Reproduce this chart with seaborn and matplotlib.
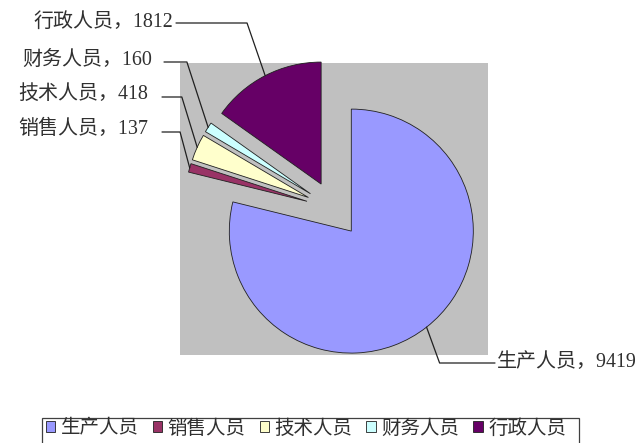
import numpy as np
import seaborn as sns
import matplotlib.pyplot as plt
from matplotlib.patches import Rectangle

# data
categories = ['生产人员', '销售人员', '技术人员', '财务人员', '行政人员']
values = [9419, 137, 418, 160, 1812]
colors = ['#9999FF', '#993366', '#FFFFCC', '#CCFFFF', '#660066']

sns.set_style('white')
plt.rcParams['font.family'] = ['Liberation Serif', 'Noto Sans CJK SC', 'DejaVu Sans']

W, H = 644, 443
fig = plt.figure(figsize=(W / 100, H / 100), dpi=100)

# plot area (gray box) in pixels
left, top, right, bottom = 180, 63, 488, 355
ax = fig.add_axes([left / W, 1 - bottom / H, (right - left) / W, (bottom - top) / H])

R = 122.0  # pie radius in px
cx, cy = (left + right) / 2, (top + bottom) / 2

def px(x, y):
    # pixel position -> data coords
    return (x - cx) / R, (cy - y) / R

wedges, _ = ax.pie(values, colors=colors, startangle=90, counterclock=False,
                   explode=[0.23] * len(values), radius=1, frame=True,
                   wedgeprops=dict(edgecolor='#202020', linewidth=0.6))
ax.set_facecolor('#C0C0C0')
for s in ax.spines.values():
    s.set_visible(False)
ax.set_xlim((left - cx) / R, (right - cx) / R)
ax.set_ylim((cy - bottom) / R, (cy - top) / R)
ax.set_aspect('auto')
ax.set_xticks([])
ax.set_yticks([])

# label layout: text pos (px), ha, line start (px), angle of the leader near the slice
layout = {
    '生产人员': ((497, 363), 'left', (495, 363), -70),
    '销售人员': ((148, 129), 'right', (162, 132), 105),
    '技术人员': ((148, 94), 'right', (162, 97), 107),
    '财务人员': ((152, 60), 'right', (164, 62), 108),
    '行政人员': ((173, 22), 'right', (176, 23), 109),
}

for w, name, v in zip(wedges, categories, values):
    mid = np.deg2rad((w.theta1 + w.theta2) / 2)
    ex, ey = w.center[0] + w.r * np.cos(mid), w.center[1] + w.r * np.sin(mid)
    (tx, ty), ha, (lx, ly), ang = layout[name]
    ax.text(*px(tx, ty), f'{name}，{v}', ha=ha, va='center', fontsize=14.4,
            color='#303030', clip_on=False)
    ax.annotate('', xy=(ex, ey), xytext=px(lx, ly), annotation_clip=False,
                arrowprops=dict(arrowstyle='-', color='#202020', lw=0.9,
                                shrinkA=0, shrinkB=0,
                                connectionstyle=f'angle,angleA=0,angleB={ang},rad=0'))

# legend (frame drawn separately, it runs off the bottom edge)
leg = fig.legend(wedges, categories, loc='center', ncol=5,
                 bbox_to_anchor=(306 / W, 1 - 428 / H), frameon=False,
                 fontsize=14, handlelength=0.51, handleheight=0.51,
                 handletextpad=0.26, columnspacing=0.72, borderpad=0,
                 borderaxespad=0)
for t in leg.get_texts():
    t.set_family(['Noto Sans CJK SC'])
    t.set_color('#303030')
fig.patches.append(Rectangle((42 / W, -0.05), 537 / W, (443 - 418) / H + 0.05,
                             transform=fig.transFigure, fill=False,
                             edgecolor='#404040', lw=0.9))

fig.savefig('out.png', dpi=100)
